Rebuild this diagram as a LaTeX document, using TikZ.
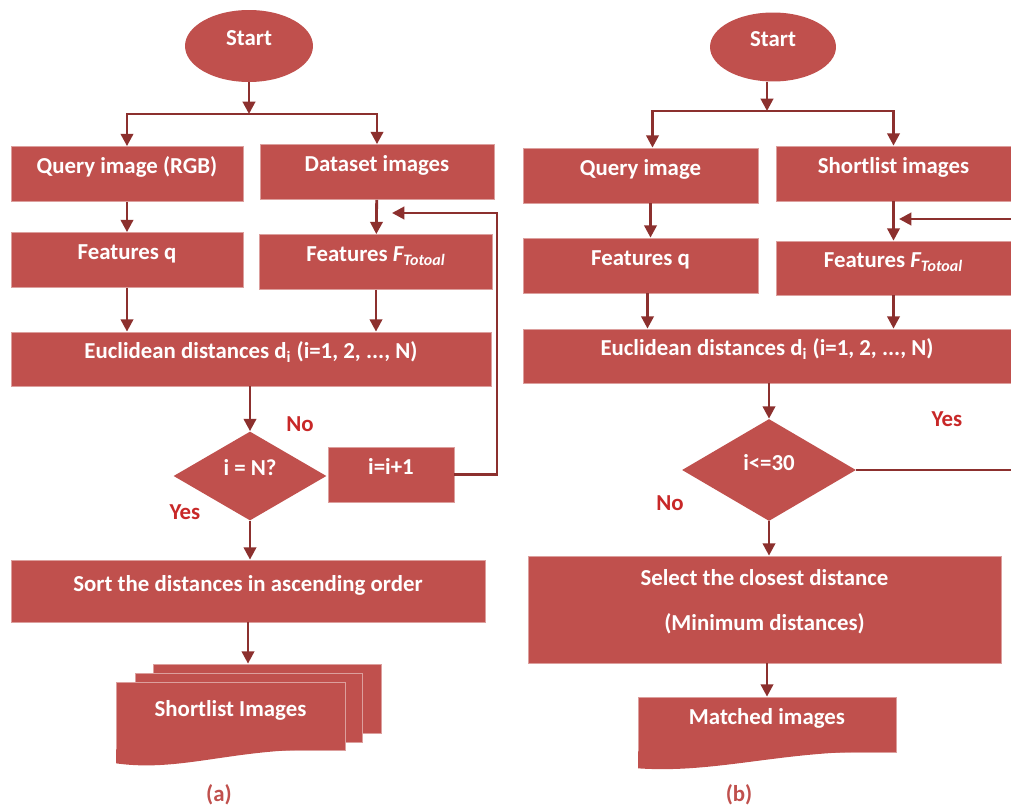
\documentclass[tikz,border=0pt]{standalone}
\usepackage{fontspec}
\setmainfont{Carlito}
\usetikzlibrary{shapes.geometric,arrows.meta}
\definecolor{boxred}{RGB}{192,80,77}
\definecolor{linered}{RGB}{140,48,46}
\definecolor{labelred}{RGB}{200,40,40}

\begin{document}
\begin{tikzpicture}[x=0.02cm,y=-0.02cm,font=\fontsize{13}{15.6}\selectfont\bfseries,
    >={Stealth[length=7pt,width=7pt,inset=0pt]},
    block/.style={fill=boxred,draw=boxred!55!white,line width=0.4pt,text=white,
      inner sep=0pt,text height=1.4ex,text depth=1.4ex,minimum height=1.1cm},
    terminal/.style={ellipse,fill=boxred,text=white,inner sep=0pt,
      text height=1.4ex,text depth=1.4ex},
    decision/.style={diamond,fill=boxred,text=white,inner sep=0pt,
      text height=1.4ex,text depth=1.4ex},
    flow/.style={->,line width=1.6pt,linered},
    answer/.style={text=labelred},
    caption/.style={text=boxred}]
    \useasboundingbox[fill=white] (0,0) rectangle (1011,807);
    % (a)
    \node[terminal,minimum width=2.56cm,minimum height=1.44cm] (start1) at (249,46) {Start};
    \coordinate (fork1) at (249,114);
    \node[block,minimum width=4.64cm] (q1) at (127,174) {Query image (RGB)};
    \node[block,minimum width=4.68cm] (ds1) at (377,172) {Dataset images};
    \node[block,minimum width=4.64cm] (fq1) at (127,260) {Features q};
    \node[block,minimum width=4.66cm] (ff1) at (376,262) {Features \textit{F\textsubscript{Totoal}}};
    \node[block,minimum width=9.6cm,minimum height=1.08cm] (ed1) at (251,359)
      {Euclidean distances d\textsubscript{i} (i=1, 2, ..., N)};
    \node[decision,minimum width=3.06cm,minimum height=1.78cm] (dec1) at (250,476) {i = N?};
    \node[block,minimum width=2.52cm] (inc1) at (391,474.5) {i=i+1};
    \node[block,minimum width=9.48cm,minimum height=1.24cm] (sort1) at (248,591)
      {Sort the distances in ascending order};
    \node[block,minimum width=4.56cm,minimum height=1.38cm] (short3) at (267,698.5) {};
    \node[block,minimum width=4.54cm,minimum height=1.38cm] (short2) at (248.5,707.5) {};
    \node[block,minimum width=4.58cm,minimum height=1.36cm] (short1) at (230.5,716) {Shortlist Images};
    \fill[boxred] (short1.south west) ++(0.5,-1) -- ++(0,14)
      .. controls (185,773) and (240,745) .. (344.5,750) -- ++(0,-1) -- cycle;
    \node[answer] (no1) at (300,424) {No};
    \node[answer] (yes1) at (185,512) {Yes};
    \node[caption] (cap1) at (219,795) {(a)};
    \coordinate (loop1) at (497,213);
    \coordinate (back1) at (392,213);
    \draw[flow] (start1) -- (fork1);
    \draw[flow] (fork1) -| (q1.north);
    \draw[flow] (fork1) -| (ds1.north);
    \draw[flow] (q1) -- (fq1);
    \draw[flow] (ds1) -- (ff1);
    \draw[flow] (fq1.south) -- (fq1.south |- ed1.north);
    \draw[flow] (ff1.south) -- (ff1.south |- ed1.north);
    \draw[flow] (ed1.south -| dec1.north) -- (dec1.north);
    \draw[flow] (inc1.east) -| (loop1) -- (back1);
    \draw[flow] (dec1.south) -- (dec1.south |- sort1.north);
    \draw[flow] (sort1.south) -- (sort1.south |- short3.north);
    % (b)
    \node[terminal,minimum width=2.52cm,minimum height=1.38cm] (start2) at (773,47) {Start};
    \coordinate (fork2) at (767,111);
    \node[block,minimum width=4.7cm] (q2) at (640.5,175.5) {Query image};
    \node[block,minimum width=4.7cm] (sl2) at (893.5,173.5) {Shortlist images};
    \node[block,minimum width=4.7cm] (fq2) at (640.5,265.5) {Features q};
    \node[block,minimum width=4.7cm,minimum height=1.08cm] (ff2) at (893.5,268)
      {Features \textit{F\textsubscript{Totoal}}};
    \node[block,minimum width=9.76cm,minimum height=1.08cm] (ed2) at (767,356)
      {Euclidean distances d\textsubscript{i} (i=1, 2, ..., N)};
    \node[decision,minimum width=3.48cm,minimum height=2.04cm] (dec2) at (769,470) {i<=30};
    \node[block,minimum width=9.46cm,minimum height=2.14cm,align=center,
      text height=35pt,text depth=11.6pt] (sel2) at (764.5,609.5)
      {Select the closest distance\\[10pt](Minimum distances)};
    \node[block,minimum width=5.16cm] (match2) at (767,724.5) {Matched images};
    \fill[boxred] (match2.south west) ++(0.5,-1) -- ++(0,17)
      .. controls (720,774) and (790,748) .. (895.5,752) -- ++(0,-1) -- cycle;
    \node[answer] (yes2) at (947,419) {Yes};
    \node[answer] (no2) at (670,503) {No};
    \node[caption] (cap2) at (739,795) {(b)};
    \coordinate (edge2a) at (1011,470);
    \coordinate (edge2b) at (1011,219);
    \coordinate (back2) at (899,219);
    \draw[flow] (fork2 |- start2.south) -- (fork2);
    \draw[flow] (fork2) -| ([xshift=0.24cm]q2.north);
    \draw[flow] (fork2) -| (sl2.north);
    \draw[flow] ([xshift=0.2cm]q2.south) -- ([xshift=0.2cm]fq2.north);
    \draw[flow] (sl2) -- (ff2);
    \draw[flow] ([xshift=0.14cm]fq2.south) -- ([xshift=0.14cm]fq2.south |- ed2.north);
    \draw[flow] (ff2.south) -- (ff2.south |- ed2.north);
    \draw[flow] (ed2.south -| dec2.north) -- (dec2.north);
    \draw[flow,-] (dec2.east) -- (edge2a);
    \draw[flow] (edge2b) -- (back2);
    \draw[flow] (dec2.south) -- (dec2.south |- sel2.north);
    \draw[flow] (sel2.south -| match2.north) -- (match2.north);
  \end{tikzpicture}
\end{document}
